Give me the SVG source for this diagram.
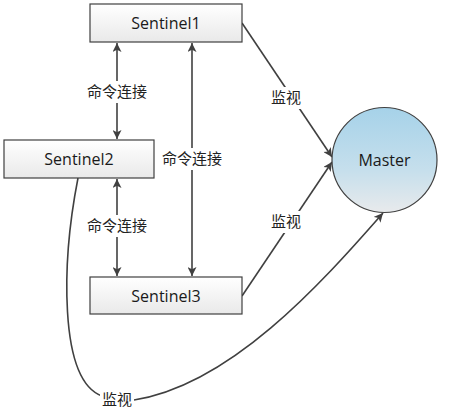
<svg xmlns="http://www.w3.org/2000/svg" width="465" height="412" viewBox="0 0 465 412">
<defs>
<linearGradient id="boxg" x1="0" y1="0" x2="0" y2="1">
<stop offset="0" stop-color="#ffffff"/>
<stop offset="1" stop-color="#e9e9e9"/>
</linearGradient>
<linearGradient id="mg" x1="0" y1="0" x2="0" y2="1">
<stop offset="0" stop-color="#a6d2e9"/>
<stop offset="0.6" stop-color="#c6dfec"/>
<stop offset="1" stop-color="#e8eaec"/>
</linearGradient>
<marker id="ah" viewBox="0 0 10 10" refX="10" refY="5" markerWidth="10" markerHeight="9" markerUnits="userSpaceOnUse" orient="auto-start-reverse">
<path d="M0,0 L10,5 L0,10 L2.5,5 z" fill="#404040"/>
</marker>
<style>
.box{fill:url(#boxg);stroke:#404040;stroke-width:1.2}
.nt{font-family:"Open Sans","Liberation Sans",sans-serif;font-size:16px;fill:#1a1a1a;text-anchor:middle}
.lb{font-family:"Noto Sans CJK SC",sans-serif;font-size:15px;fill:#222;text-anchor:middle}
.ln{fill:none;stroke:#404040;stroke-width:1.6}
.bg{fill:#ffffff}
</style>
</defs>
<rect width="465" height="412" fill="#ffffff"/>
<g id="connectors">
<line class="ln" x1="117" y1="43" x2="117" y2="139" marker-start="url(#ah)" marker-end="url(#ah)"/>
<line class="ln" x1="192" y1="43" x2="192" y2="276" marker-start="url(#ah)" marker-end="url(#ah)"/>
<line class="ln" x1="117" y1="179" x2="117" y2="276" marker-start="url(#ah)" marker-end="url(#ah)"/>
<line class="ln" x1="242" y1="23" x2="332" y2="157" marker-end="url(#ah)"/>
<line class="ln" x1="242" y1="296" x2="332" y2="162" marker-end="url(#ah)"/>
<path class="ln" d="M78,178 C62,260 58,380 102,396"/>
<path class="ln" d="M134,400 C230,385 320,285 383,213" marker-end="url(#ah)"/>
<rect class="bg" x="84" y="81" width="66" height="22"/>
<text class="lb" x="117" y="97">命令连接</text>
<rect class="bg" x="159" y="148" width="66" height="22"/>
<text class="lb" x="192" y="164">命令连接</text>
<rect class="bg" x="84" y="215" width="66" height="22"/>
<text class="lb" x="117" y="231">命令连接</text>
<rect class="bg" x="269" y="87" width="34" height="22"/>
<text class="lb" x="286" y="103">监视</text>
<rect class="bg" x="269" y="211" width="34" height="22"/>
<text class="lb" x="286" y="227">监视</text>
<rect class="bg" x="100" y="389" width="34" height="22"/>
<text class="lb" x="117" y="405">监视</text>
</g>
<g id="sentinel1">
<rect class="box" x="90" y="4" width="152" height="38"/>
<text class="nt" x="166" y="29">Sentinel1</text>
</g>
<g id="sentinel2">
<rect class="box" x="4" y="140" width="150" height="38"/>
<text class="nt" x="79" y="165">Sentinel2</text>
</g>
<g id="sentinel3">
<rect class="box" x="90" y="277" width="152" height="37"/>
<text class="nt" x="166" y="302">Sentinel3</text>
</g>
<g id="master">
<circle cx="384.5" cy="160" r="52.5" fill="url(#mg)" stroke="#404040" stroke-width="1.2"/>
<text class="nt" x="384.5" y="166">Master</text>
</g>
</svg>
